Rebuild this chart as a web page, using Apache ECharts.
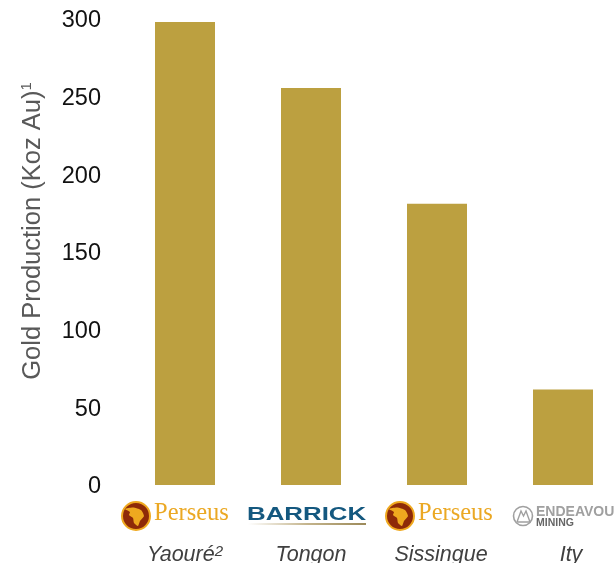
<!DOCTYPE html>
<html><head><meta charset="utf-8">
<style>html,body{margin:0;padding:0;background:#fff}#c{width:615px;height:563px}</style>
<script src="https://cdn.jsdelivr.net/npm/echarts@6/dist/echarts.min.js"></script>
</head><body><div id="c"></div>
<script>
const categories = ['Yaouré', 'Tongon', 'Sissingue', 'Ity'];
const superscripts = ['2', '', '', ''];
const production = [298, 255.5, 181, 61.5];
const yTicks = [0, 50, 100, 150, 200, 250, 300];
const FONT = '"Liberation Sans", Arial, sans-serif';
const chart = echarts.init(document.getElementById('c'), null, {renderer: 'canvas'});

function perseus(cx, tx) {
  const cy = 516;
  const head = [[-11,-7],[-3,-8.5],[5,-6],[8,0],[4,5],[2,10],[-2,7],[-3,2],[-7,-1],[-6,-4]];
  return [
    {type:'circle', shape:{cx:cx, cy:cy, r:14}, style:{fill:'#8E2A08', stroke:'#EFA91F', lineWidth:2}},
    {type:'polygon', shape:{points:head.map(p=>[cx+p[0], cy+p[1]]), smooth:0.2}, style:{fill:'#EFA91F'}},
    {type:'text', x:tx, y:501, style:{text:'Perseus', font:'24.5px "Liberation Serif", serif', fill:'#EBA823'}}
  ];
}
const barrick = [
  {type:'text', x:247, y:505, style:{text:'BARRICK', font:'bold 19px "Liberation Sans", sans-serif', fill:'#14587F'}, scaleX:1.36},
  {type:'rect', shape:{x:248, y:523, width:118, height:2}, style:{fill:new echarts.graphic.LinearGradient(0,0,1,0,[{offset:0,color:'#ffffff'},{offset:.5,color:'#C4B48C'},{offset:1,color:'#9C8A5A'}])}}
];
const endeavour = [
  {type:'circle', shape:{cx:523, cy:516, r:9.5}, style:{fill:'#fff', stroke:'#A0A0A0', lineWidth:1.6}},
  {type:'polyline', shape:{points:[[517,522],[521,511],[523.5,516],[526,511],[530,522],[517,522]]}, style:{fill:'none', stroke:'#A0A0A0', lineWidth:1.4}},
  {type:'text', x:536, y:505, style:{text:'ENDEAVOUR', font:'bold 14px "Liberation Sans", sans-serif', fill:'#A0A0A0'}},
  {type:'text', x:536, y:518, style:{text:'MINING', font:'bold 10.5px "Liberation Sans", sans-serif', fill:'#666666'}}
];
const catText = {fontFamily:FONT, fontStyle:'italic', fontSize:21.5, color:'#404040'};

chart.setOption({
  animation:false,
  backgroundColor:'#fff',
  grid:{left:122, top:19, width:504, height:466, containLabel:false, outerBoundsMode:'none'},
  xAxis:{type:'category', data:categories, axisLine:{show:false}, axisTick:{show:false},
    axisLabel:{interval:0, margin:59,
      formatter:(v,i)=> superscripts[i] ? `{n${i}|${v}}{s|${superscripts[i]}}` : `{n${i}|${v}}`,
      rich:{n0:catText, n1:catText,
            n2:{...catText, padding:[0,0,0,8]}, n3:{...catText, padding:[0,0,0,16]},
            s:{fontFamily:FONT, fontStyle:'italic', fontSize:15, color:'#404040', verticalAlign:'top', padding:[0,0,8,0]}}}},
  yAxis:{type:'value', min:0, max:300, interval:50,
    axisLine:{show:false}, axisTick:{show:false}, splitLine:{show:false},
    axisLabel:{show:true, margin:21,
      formatter:v=> yTicks.includes(v) ? `{a|${v}}` : '',
      rich:{a:{fontFamily:FONT, fontSize:23.5, color:'#111', padding:[4,0,0,0]}}},
    name:'{t|Gold Production (Koz Au)}{u|1}', nameLocation:'middle', nameGap:76, nameRotate:90,
    nameTextStyle:{padding:[0,0,0,42], rich:{t:{fontFamily:FONT, fontSize:25.5, color:'#595959'},
      u:{fontFamily:FONT, fontSize:15, color:'#595959', padding:[0,0,12,0]}}}},
  series:[{type:'bar', data:production, barWidth:60, itemStyle:{color:'#BCA040'}}],
  graphic:{elements:[...perseus(136,154), ...barrick, ...perseus(400,418), ...endeavour]}
});
</script></body></html>
